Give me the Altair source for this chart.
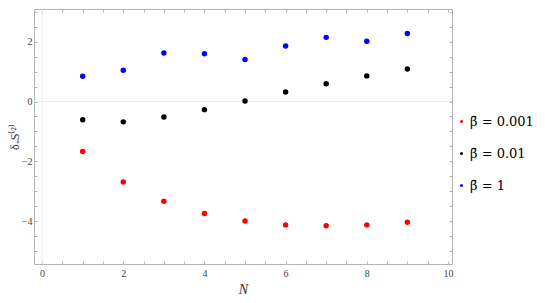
import altair as alt
import pandas as pd

N = [1, 2, 3, 4, 5, 6, 7, 8, 9]
beta_0001 = [-1.67, -2.69, -3.34, -3.75, -4.00, -4.13, -4.16, -4.13, -4.04]
beta_001 = [-0.61, -0.68, -0.52, -0.27, 0.02, 0.32, 0.60, 0.86, 1.09]
beta_1 = [0.85, 1.05, 1.63, 1.60, 1.41, 1.86, 2.15, 2.02, 2.28]
series_labels = ["β̄ = 0.001", "β̄ = 0.01", "β̄ = 1"]
series_colors = ["#ff0000", "#000000", "#0000ff"]
x_ticks = [i * 0.5 for i in range(0, 21)]
y_ticks = [-5 + i * 0.5 for i in range(0, 17)]
zero = [0]

rows = []
for lab, vals in zip(series_labels, [beta_0001, beta_001, beta_1]):
    for n, v in zip(N, vals):
        rows.append({"N": n, "v": v, "series": lab})
df = pd.DataFrame(rows)
zdf = pd.DataFrame({"z": zero})

xscale = alt.Scale(domain=[-0.2, 10.1], nice=False, zero=False)
yscale = alt.Scale(domain=[-5.44, 3.1], nice=False, zero=False)

FONT = "'Liberation Serif', 'Times New Roman', serif"
LFONT = "'DejaVu Serif', serif"
FRAME = "#b4b4b4"
TS = {"expr": "-3"}
lab_expr = "datum.value % 2 === 0 ? format(datum.value, 'd') : ''"

x_bottom = alt.Axis(orient="bottom", values=x_ticks, labelExpr=lab_expr, grid=False,
                    domain=False, tickSize=TS, tickColor=FRAME, labelPadding=7,
                    labelFont=FONT, labelFontSize=10, labelColor="#444",
                    title="N", titleFont=FONT, titleFontSize=14, titleFontStyle="italic",
                    titleFontWeight="normal", titleColor="#333", titlePadding=4)
y_left = alt.Axis(orient="left", values=y_ticks, labelExpr=lab_expr, grid=False,
                  domain=False, tickSize=TS, tickColor=FRAME, labelPadding=5,
                  labelFont=FONT, labelFontSize=10, labelColor="#444",
                  title="δ₊S⁽²⁾", titleFont=FONT, titleFontSize=12,
                  titleFontWeight="normal", titleColor="#333", titlePadding=0)
x_top = alt.Axis(orient="top", values=x_ticks, labels=False, grid=False, domain=False,
                 tickSize=TS, tickColor=FRAME, title=None)
y_right = alt.Axis(orient="right", values=y_ticks, labels=False, grid=False, domain=False,
                   tickSize=TS, tickColor=FRAME, title=None)

hrule = alt.Chart(zdf).mark_rule(color="#ececec", strokeWidth=1).encode(
    y=alt.Y("z:Q", scale=yscale, axis=y_right)
)
vrule = alt.Chart(zdf).mark_rule(color="#ececec", strokeWidth=1).encode(
    x=alt.X("z:Q", scale=xscale, axis=x_top)
)
pts = alt.Chart(df).mark_circle(size=30, opacity=1).encode(
    x=alt.X("N:Q", scale=xscale, axis=x_bottom),
    y=alt.Y("v:Q", scale=yscale, axis=y_left),
    color=alt.Color("series:N",
                    scale=alt.Scale(domain=series_labels, range=series_colors),
                    legend=alt.Legend(orient="none", legendX=421, legendY=106,
                                      title=None, symbolType="circle", symbolSize=9,
                                      labelFont=LFONT, labelFontSize=13,
                                      labelColor="#000", rowPadding=18, labelOffset=2)),
)

chart = alt.layer(hrule, vrule, pts).resolve_axis(
    x="independent", y="independent"
).properties(
    width=418, height=255, padding=0
).configure_view(stroke=FRAME, strokeWidth=1)

chart.save("out.html", embed_options={"renderer": "svg", "actions": False})
